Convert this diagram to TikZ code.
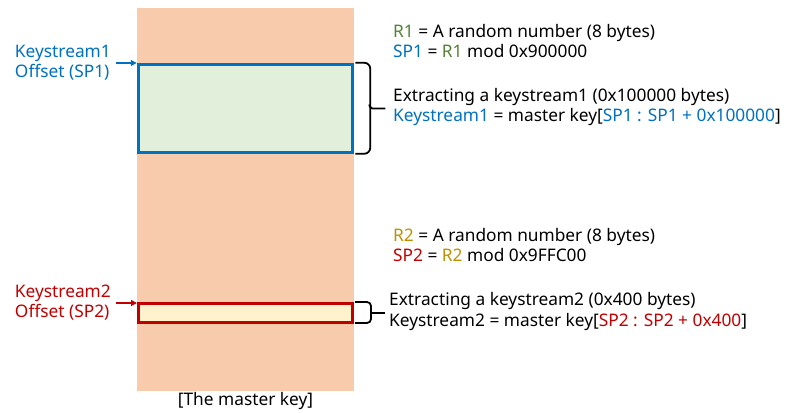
\documentclass[tikz,border=0pt]{standalone}
\usepackage{fontspec}
\setmainfont{Noto Sans}
\usetikzlibrary{arrows.meta}
\definecolor{kblue}{HTML}{0070C0}
\definecolor{kgreen}{HTML}{548235}
\definecolor{kgold}{HTML}{BF9000}
\definecolor{kred}{HTML}{C00000}
\definecolor{kstrip}{HTML}{F8CBAD}
\definecolor{kfillg}{HTML}{E2EFDA}
\definecolor{kfilly}{HTML}{FFF2CC}
\begin{document}
\begin{tikzpicture}[x=1pt,y=-1pt,
  txt/.style={anchor=mid west, inner sep=0pt, font=\fontsize{17.3}{20}\selectfont},
  lbl/.style={anchor=east, inner sep=0pt, align=left, font=\fontsize{17.3}{20}\selectfont},
  keybox/.style={draw, inner sep=0pt, minimum width=214pt},
  tip/.style={-{Triangle[length=6pt,width=6pt]}, line width=1.2pt},
  bracepath/.style={line width=1.8pt, black}]
\useasboundingbox (0,0) rectangle (797,412);
% master key strip
\node[fill=kstrip, minimum width=217pt, minimum height=383pt, inner sep=0pt, anchor=north west] (mk) at (137,8) {};
\node[anchor=mid, inner sep=0pt, font=\fontsize{17.3}{20}\selectfont] (mklbl) at (245.5,403) {[The master key]};
% keystream boxes
\node[keybox, draw=kblue, fill=kfillg, line width=3.5pt, minimum height=88pt] (b1) at (245.5,108.5) {};
\node[keybox, draw=kred, fill=kfilly, line width=3pt, minimum height=19pt] (b2) at (245.5,313) {};
% left labels
\node[lbl, text=kblue] (l1) at (111,63) {Keystream1\\Offset (SP1)};
\node[lbl, text=kred] (l2) at (111,303) {Keystream2\\Offset (SP2)};
\draw[tip, kblue] (l1.east) ++(5,0) coordinate (a1s) -- (b1.north west |- a1s) ;
\draw[tip, kred] (l2.east) ++(5,0) coordinate (a2s) -- (b2.north west |- a2s);
% brace 1
\draw[bracepath, rounded corners=6pt] ([xshift=1pt]b1.north east) -- ++(15,0) coordinate (br1a) -- ++(0,91) -- ++(-15,0);
\draw[bracepath, rounded corners=2pt] ([xshift=-1pt]br1a |- b1.east) ++(0,-4) -- ++(1,4) -- ++(15,0) coordinate (br1t);
% brace 2
\draw[bracepath, rounded corners=4pt] ([xshift=1pt]b2.north east) -- ++(16,0) coordinate (br2a) -- ++(0,21) -- ++(-16,0);
\draw[bracepath] (br2a |- b2.east) -- ++(14,0) coordinate (br2t);
% texts top
\node[txt] (t1) at (393,34.5) {\textcolor{kgreen}{R1} = A random number (8 bytes)};
\node[txt] (t2) at (393,54.5) {\textcolor{kblue}{SP1} = \textcolor{kgreen}{R1} mod 0x900000};
\node[txt] (t3) at (393,98.5) {Extracting a keystream1 (0x100000 bytes)};
\node[txt] (t4) at (393,118.5) {\textcolor{kblue}{Keystream1} = master key[\textcolor{kblue}{SP1 : SP1 + 0x100000}]};
% texts bottom
\node[txt] (t5) at (393,238.5) {\textcolor{kgold}{R2} = A random number (8 bytes)};
\node[txt] (t6) at (393,258.5) {\textcolor{kred}{SP2} = \textcolor{kgold}{R2} mod 0x9FFC00};
\node[txt] (t7) at (389,302.5) {Extracting a keystream2 (0x400 bytes)};
\node[txt] (t8) at (389,323.5) {Keystream2 = master key[\textcolor{kred}{SP2 : SP2 + 0x400}]};
\end{tikzpicture}
\end{document}
